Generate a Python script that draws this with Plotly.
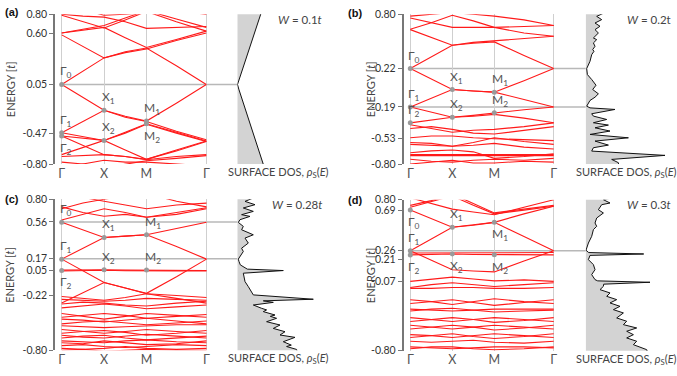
import plotly.graph_objects as go

# ---------------- data ----------------
K_NODES = [0, 0.5, 1, 1.5, 2, 2.7071, 3.4142]      # Γ, ., X, ., M, ., Γ
K_TICKS = [0, 1, 2, 3.4142]
K_LABELS = ["Γ", "X", "M", "Γ"]

BANDS_A = [
    [0.05, 0.19, 0.334, 0.40, 0.44, 0.25, 0.05],
    [0.58, 0.46, 0.334, 0.39, 0.43, 0.52, 0.60],
    [0.60, 0.63, 0.66, 0.55, 0.445, 0.53, 0.62],
    [0.79, 0.72, 0.654, 0.74, 0.83, 0.72, 0.62],
    [0.60, 0.64, 0.68, 0.76, 0.84, 0.75, 0.66],
    [0.92, 0.85, 0.79, 0.80, 0.82, 0.84, 0.80],
    [0.80, 0.78, 0.77, 0.72, 0.65, 0.66, 0.67],
    [0.05, -0.09, -0.226, -0.29, -0.341, -0.15, 0.05],
    [-0.466, -0.35, -0.226, -0.30, -0.345, -0.45, -0.54],
    [-0.466, -0.51, -0.548, -0.46, -0.37, -0.46, -0.555],
    [-0.50, -0.52, -0.548, -0.47, -0.375, -0.47, -0.56],
    [-0.50, -0.60, -0.70, -0.72, -0.75, -0.65, -0.555],
    [-0.70, -0.62, -0.548, -0.65, -0.75, -0.66, -0.56],
    [-0.72, -0.71, -0.70, -0.72, -0.755, -0.72, -0.70],
    [-0.78, -0.80, -0.84, -0.80, -0.765, -0.74, -0.71],
    [-0.86, -0.80, -0.76, -0.78, -0.78, -0.80, -0.82],
]

BANDS_B = [
    [0.22, 0.345, 0.469, 0.49, 0.505, 0.36, 0.22],
    [0.636, 0.55, 0.469, 0.50, 0.515, 0.54, 0.565],
    [0.64, 0.71, 0.79, 0.73, 0.66, 0.60, 0.565],
    [0.76, 0.71, 0.66, 0.66, 0.66, 0.67, 0.68],
    [0.78, 0.80, 0.82, 0.80, 0.78, 0.74, 0.68],
    [0.22, 0.11, -0.004, -0.02, -0.032, 0.09, 0.22],
    [-0.19, -0.10, -0.004, -0.02, -0.032, -0.11, -0.19],
    [-0.19, -0.245, -0.30, -0.28, -0.253, -0.22, -0.19],
    [-0.36, -0.33, -0.30, -0.29, -0.27, -0.31, -0.36],
    [-0.38, -0.42, -0.46, -0.44, -0.43, -0.40, -0.36],
    [-0.42, -0.40, -0.43, -0.47, -0.48, -0.44, -0.40],
    [-0.52, -0.50, -0.50, -0.52, -0.53, -0.54, -0.55],
    [-0.57, -0.58, -0.61, -0.57, -0.52, -0.56, -0.59],
    [-0.59, -0.60, -0.61, -0.60, -0.58, -0.62, -0.64],
    [-0.70, -0.70, -0.70, -0.70, -0.70, -0.70, -0.70],
    [-0.71, -0.71, -0.715, -0.715, -0.71, -0.71, -0.71],
    [-0.68, -0.66, -0.65, -0.67, -0.74, -0.72, -0.69],
    [-0.75, -0.77, -0.78, -0.76, -0.75, -0.76, -0.74],
    [-0.80, -0.78, -0.76, -0.79, -0.79, -0.77, -0.78],
]

BANDS_C = [
    [0.556, 0.476, 0.396, 0.41, 0.424, 0.49, 0.556],
    [0.166, 0.28, 0.396, 0.41, 0.424, 0.30, 0.166],
    [0.58, 0.64, 0.70, 0.66, 0.61, 0.66, 0.71],
    [0.72, 0.66, 0.62, 0.64, 0.61, 0.64, 0.70],
    [0.70, 0.76, 0.80, 0.84, 0.86, 0.78, 0.72],
    [0.90, 0.82, 0.78, 0.74, 0.70, 0.74, 0.76],
    [0.166, 0.04, -0.082, -0.14, -0.196, -0.02, 0.166],
    [0.05, 0.055, 0.054, 0.05, 0.05, 0.05, 0.045],
    [0.04, 0.045, 0.048, 0.043, 0.04, 0.042, 0.04],
    [-0.30, -0.19, -0.082, -0.14, -0.20, -0.25, -0.30],
    [-0.23, -0.25, -0.27, -0.24, -0.20, -0.22, -0.24],
    [-0.26, -0.27, -0.28, -0.27, -0.25, -0.26, -0.27],
    [-0.31, -0.29, -0.30, -0.32, -0.33, -0.30, -0.28],
    [-0.35, -0.33, -0.31, -0.33, -0.36, -0.34, -0.32],
    [-0.41, -0.44, -0.47, -0.44, -0.41, -0.43, -0.45],
    [-0.45, -0.43, -0.41, -0.43, -0.46, -0.44, -0.42],
    [-0.47, -0.48, -0.50, -0.48, -0.46, -0.49, -0.52],
    [-0.52, -0.50, -0.49, -0.51, -0.53, -0.51, -0.49],
    [-0.54, -0.55, -0.56, -0.55, -0.54, -0.53, -0.53],
    [-0.58, -0.60, -0.62, -0.60, -0.58, -0.60, -0.62],
    [-0.62, -0.60, -0.59, -0.61, -0.64, -0.62, -0.59],
    [-0.64, -0.66, -0.67, -0.65, -0.63, -0.65, -0.67],
    [-0.67, -0.65, -0.64, -0.67, -0.69, -0.67, -0.65],
    [-0.70, -0.71, -0.72, -0.70, -0.69, -0.71, -0.72],
    [-0.72, -0.73, -0.70, -0.72, -0.74, -0.73, -0.70],
    [-0.75, -0.74, -0.76, -0.77, -0.76, -0.74, -0.75],
    [-0.78, -0.79, -0.78, -0.76, -0.78, -0.79, -0.78],
    [-0.80, -0.79, -0.81, -0.80, -0.79, -0.80, -0.80],
]

BANDS_D = [
    [0.69, 0.60, 0.508, 0.53, 0.56, 0.65, 0.73],
    [0.26, 0.385, 0.508, 0.535, 0.56, 0.41, 0.26],
    [0.72, 0.78, 0.84, 0.74, 0.65, 0.69, 0.73],
    [0.74, 0.79, 0.86, 0.76, 0.66, 0.70, 0.74],
    [0.82, 0.76, 0.70, 0.67, 0.64, 0.72, 0.80],
    [0.26, 0.16, 0.058, 0.045, 0.035, 0.15, 0.26],
    [0.215, 0.22, 0.225, 0.22, 0.217, 0.215, 0.215],
    [0.235, 0.235, 0.24, 0.238, 0.235, 0.235, 0.24],
    [-0.065, -0.04, -0.02, -0.04, -0.06, -0.05, -0.065],
    [-0.13, -0.10, -0.08, -0.10, -0.12, -0.10, -0.08],
    [-0.14, -0.14, -0.13, -0.13, -0.14, -0.14, -0.13],
    [-0.26, -0.28, -0.31, -0.28, -0.25, -0.28, -0.30],
    [-0.30, -0.28, -0.26, -0.29, -0.32, -0.29, -0.26],
    [-0.36, -0.37, -0.38, -0.37, -0.36, -0.36, -0.36],
    [-0.38, -0.36, -0.35, -0.37, -0.39, -0.38, -0.37],
    [-0.45, -0.47, -0.49, -0.47, -0.45, -0.47, -0.49],
    [-0.49, -0.47, -0.45, -0.47, -0.50, -0.48, -0.45],
    [-0.53, -0.55, -0.57, -0.55, -0.53, -0.55, -0.57],
    [-0.57, -0.55, -0.53, -0.55, -0.58, -0.56, -0.53],
    [-0.63, -0.64, -0.66, -0.64, -0.62, -0.64, -0.66],
    [-0.66, -0.64, -0.62, -0.65, -0.67, -0.65, -0.62],
    [-0.70, -0.71, -0.70, -0.69, -0.71, -0.72, -0.70],
    [-0.76, -0.77, -0.78, -0.77, -0.76, -0.76, -0.77],
    [-0.78, -0.76, -0.76, -0.78, -0.79, -0.78, -0.76],
]

# surface DOS: energies and values
DOS_E_A = [0.82, 0.7, 0.6, 0.5, 0.45, 0.4, 0.3, 0.2, 0.1, 0.05, 0.0, -0.1, -0.2, -0.3, -0.4, -0.5, -0.6, -0.7, -0.82]
DOS_V_A = [24, 20.3, 17.3, 14.2, 12.3, 11, 7.8, 4.8, 1.7, 0.2, 1.5, 4.5, 7.3, 10.3, 13.2, 16.3, 19.5, 22.5, 26.5]

DOS_E_B = [0.82, 0.814, 0.778, 0.743, 0.707, 0.672, 0.636, 0.600, 0.547, 0.529, 0.494, 0.458, 0.423, 0.405,
           0.369, 0.298, 0.22, 0.156, 0.103, 0.042, -0.004, -0.05, -0.086, -0.121, -0.182, -0.2, -0.217,
           -0.263, -0.288, -0.324, -0.359, -0.384, -0.413, -0.448, -0.484, -0.52, -0.555, -0.598, -0.626,
           -0.662, -0.708, -0.751, -0.786, -0.82]
DOS_V_B = [18, 18.3, 11, 16, 9.3, 14.3, 9.3, 12.7, 7.7, 11, 7.7, 9.3, 7, 8.3,
           6, 4.3, 1, 1.7, 6, 10.3, 7, 12.7, 9.3, 4.3, 1, 4.3, 29.3,
           6, 7.7, 21, 7.7, 22.7, 9.3, 24.3, 4.3, 42.7, 9.3, 22.7, 7.7,
           6, 79.3, 26, 32.7, 33]

DOS_E_C = [0.82, 0.814, 0.778, 0.743, 0.708, 0.672, 0.637, 0.619, 0.584, 0.555, 0.513, 0.477, 0.424, 0.389,
           0.336, 0.282, 0.247, 0.194, 0.166, 0.141, 0.105, 0.06, 0.045, 0.017, -0.072, -0.125, -0.16,
           -0.213, -0.259, -0.276, -0.292, -0.32, -0.355, -0.372, -0.39, -0.426, -0.44, -0.461, -0.497,
           -0.532, -0.568, -0.603, -0.638, -0.663, -0.709, -0.745, -0.76, -0.791, -0.82]
DOS_V_C = [16, 16, 7.7, 17.7, 6, 16, 4.3, 12.7, 2.7, 1, 6, 4.3, 16, 7.7,
           11, 4.3, 6, 2.7, 1, 1.7, 3, 10, 46, 6, 7.7, 11, 12.7,
           16, 76, 26, 36, 16, 24.3, 29.3, 26, 37.7, 33, 39.3, 29.3,
           42.7, 36, 47.7, 42.7, 57.7, 46, 54, 49.3, 59.3, 60]

DOS_E_D = [0.82, 0.818, 0.8, 0.765, 0.747, 0.694, 0.659, 0.606, 0.553, 0.518, 0.483, 0.412, 0.341, 0.264,
           0.24, 0.225, 0.21, 0.165, 0.112, 0.059, 0.006, -0.047, -0.06, -0.075, -0.095, -0.118, -0.153,
           -0.188, -0.224, -0.259, -0.294, -0.33, -0.365, -0.4, -0.453, -0.488, -0.524, -0.559, -0.594,
           -0.63, -0.665, -0.7, -0.736, -0.789, -0.82]
DOS_V_D = [26, 26, 17.7, 24.3, 16, 12.7, 17.7, 11, 9.3, 11, 7.7, 6, 2.7, 0.3,
           3, 58, 4.3, 2.7, 7.7, 9.3, 6, 9.3, 12, 64.3, 18, 17.7, 14.3,
           24.3, 21, 31, 24.3, 34.3, 27.7, 37.7, 31, 41, 37.7, 51, 41,
           47.7, 41, 51, 47.7, 61, 62]

# tick labels and where each sits (close pairs are spread apart as in the source)
TICKS_A = [0.80, 0.60, 0.05, -0.47, -0.80]
TICKPOS_A = [0.80, 0.60, 0.05, -0.47, -0.80]
TICKS_B = [0.80, 0.22, -0.19, -0.53, -0.80]
TICKPOS_B = [0.80, 0.22, -0.19, -0.53, -0.80]
TICKS_C = [0.80, 0.56, 0.17, 0.05, -0.22, -0.80]
TICKPOS_C = [0.80, 0.56, 0.17, 0.05, -0.22, -0.80]
TICKS_D = [0.80, 0.69, 0.26, 0.21, -0.07, -0.80]
TICKPOS_D = [0.80, 0.69, 0.26, 0.17, -0.07, -0.80]

GUIDE_A = [0.05]
GUIDE_B = [0.22, -0.19]
GUIDE_C = [0.56, 0.17]
GUIDE_D = [0.26]

# special points: (label, sub, k, E, above?)
SPEC_A = [("Γ", "0", 0, 0.05, True), ("Γ", "1", 0, -0.466, True), ("Γ", "2", 0, -0.50, False),
          ("X", "1", 1, -0.226, True), ("X", "2", 1, -0.548, True),
          ("M", "1", 2, -0.341, True), ("M", "2", 2, -0.37, False)]
SPEC_B = [("Γ", "0", 0, 0.22, True), ("Γ", "1", 0, -0.19, True), ("Γ", "2", 0, -0.36, True),
          ("X", "1", 1, -0.004, True), ("X", "2", 1, -0.299, True),
          ("M", "1", 2, -0.032, True), ("M", "2", 2, -0.253, True)]
SPEC_C = [("Γ", "0", 0, 0.556, True), ("Γ", "1", 0, 0.166, True), ("Γ", "2", 0, 0.046, False),
          ("X", "1", 1, 0.396, True), ("X", "2", 1, 0.054, True),
          ("M", "1", 2, 0.424, True), ("M", "2", 2, 0.05, True)]
SPEC_D = [("Γ", "0", 0, 0.69, False), ("Γ", "1", 0, 0.26, True), ("Γ", "2", 0, 0.215, False),
          ("X", "1", 1, 0.508, True), ("X", "2", 1, 0.225, False),
          ("M", "1", 2, 0.56, False), ("M", "2", 2, 0.217, False)]

W_LABELS = ["<i>W</i> = 0.1<i>t</i>", "<i>W</i> = 0.2t", "<i>W</i> = 0.28<i>t</i>", "<i>W</i> = 0.3<i>t</i>"]
PANEL_LETTERS = ["(a)", "(b)", "(c)", "(d)"]

# ---------------- layout geometry (pixels) ----------------
FW, FH = 677, 376
FONT = "Lato, 'Open Sans', sans-serif"
GRAY_TXT = "#444444"

panels = [
    dict(bands=BANDS_A, dosE=DOS_E_A, dosV=DOS_V_A, ticks=TICKS_A, tpos=TICKPOS_A, guide=GUIDE_A,
         spec=SPEC_A, axl=55.0, g0=61.7, g1=206.3, top=14.3, bot=164.0, dosl=237.3, titlex=10,
         lab=(3, 12)),
    dict(bands=BANDS_B, dosE=DOS_E_B, dosV=DOS_V_B, ticks=TICKS_B, tpos=TICKPOS_B, guide=GUIDE_B,
         spec=SPEC_B, axl=403.5, g0=410.3, g1=553.7, top=14.3, bot=164.0, dosl=585.7, titlex=370,
         lab=(346, 13)),
    dict(bands=BANDS_C, dosE=DOS_E_C, dosV=DOS_V_C, ticks=TICKS_C, tpos=TICKPOS_C, guide=GUIDE_C,
         spec=SPEC_C, axl=55.0, g0=61.7, g1=206.5, top=199.3, bot=350.3, dosl=237.3, titlex=10,
         lab=(3, 199)),
    dict(bands=BANDS_D, dosE=DOS_E_D, dosV=DOS_V_D, ticks=TICKS_D, tpos=TICKPOS_D, guide=GUIDE_D,
         spec=SPEC_D, axl=403.5, g0=410.3, g1=553.7, top=199.7, bot=350.7, dosl=585.7, titlex=370,
         lab=(346, 200)),
]

DOS_WIDTH_PX = 90.0
KMAX = K_TICKS[-1]

fig = go.Figure()
layout = dict(width=FW, height=FH, margin=dict(l=0, r=0, t=0, b=0, autoexpand=False),
              paper_bgcolor="white", plot_bgcolor="rgba(0,0,0,0)", showlegend=False,
              font=dict(family=FONT, color=GRAY_TXT, size=10))
shapes, annotations = [], []


def px_x(p):
    return p / FW


def px_y(p):
    return 1 - p / FH


for i, P in enumerate(panels):
    bi = i + 1          # band axes index
    di = i + 5          # dos axes index
    bx, by = f"x{bi}", f"y{bi}"
    dx, dy = f"x{di}", f"y{di}"
    bxk = "xaxis" if bi == 1 else f"xaxis{bi}"
    byk = "yaxis" if bi == 1 else f"yaxis{bi}"
    u = (P["g1"] - P["g0"]) / KMAX
    xmin = -(P["g0"] - P["axl"]) / u
    xmax = 3.45
    right_px = P["g0"] + xmax * u
    ydom = [px_y(P["bot"]), px_y(P["top"])]

    layout[bxk] = dict(domain=[px_x(P["axl"]), px_x(right_px)], range=[xmin, xmax], anchor=by,
                       tickvals=K_TICKS, ticktext=K_LABELS, showgrid=True, gridcolor="#cfcfcf",
                       gridwidth=1, zeroline=False, showline=False, ticks="",
                       tickfont=dict(size=12.5, color="#555555"), fixedrange=True,
                       automargin=False)
    layout[byk] = dict(domain=ydom, range=[-0.8, 0.8], anchor=bx, tickvals=P["tpos"],
                       ticktext=[f"{t:.2f}" for t in P["ticks"]], showgrid=False, zeroline=False,
                       showline=True, linecolor="#777777", linewidth=1.5, ticks="outside",
                       ticklen=4, tickcolor="#777777", tickwidth=1,
                       tickfont=dict(size=10.5, color="#333333"), fixedrange=True,
                       automargin=False)
    layout[f"xaxis{di}"] = dict(domain=[px_x(P["dosl"]), px_x(P["dosl"] + DOS_WIDTH_PX)],
                                range=[0, DOS_WIDTH_PX], anchor=dy, visible=False, fixedrange=True)
    layout[f"yaxis{di}"] = dict(domain=ydom, range=[-0.8, 0.8], anchor=dx, visible=False,
                                fixedrange=True)

    # guide lines from Γ to DOS panel
    for e in P["guide"]:
        shapes.append(dict(type="line", xref="paper", yref=by, x0=px_x(P["g0"]),
                           x1=px_x(P["dosl"]), y0=e, y1=e,
                           line=dict(color="#b8b8b8", width=1.5), layer="below"))

    # bands
    for band in P["bands"]:
        fig.add_trace(go.Scatter(x=K_NODES, y=band, mode="lines", xaxis=bx, yaxis=by,
                                 line=dict(color="#ff1a1a", width=1.1), hoverinfo="skip"))

    # special points
    fig.add_trace(go.Scatter(x=[s[2] for s in P["spec"]], y=[s[3] for s in P["spec"]],
                             mode="markers", xaxis=bx, yaxis=by, cliponaxis=False,
                             marker=dict(color="#9a9a9a", size=5), hoverinfo="skip"))
    for (lab, sub, k, e, above) in P["spec"]:
        annotations.append(dict(x=k, y=e, xref=bx, yref=by, showarrow=False,
                                text=f"{lab}<sub>{sub}</sub>", xanchor="left",
                                yanchor="bottom" if above else "top",
                                xshift=-4, yshift=2 if above else -2,
                                font=dict(size=12, color="#555555")))

    # DOS
    fig.add_trace(go.Scatter(x=P["dosV"], y=P["dosE"], mode="lines", xaxis=dx, yaxis=dy,
                             fill="tozerox", fillcolor="#d3d3d3",
                             line=dict(color="#111111", width=1), hoverinfo="skip"))

    # texts
    annotations.append(dict(x=px_x(P["titlex"]), y=(ydom[0] + ydom[1]) / 2, xref="paper",
                            yref="paper", text="ENERGY [<i>t</i>]", textangle=-90,
                            xanchor="center", yanchor="middle",
                            showarrow=False, font=dict(size=11, color=GRAY_TXT)))
    annotations.append(dict(x=px_x(P["dosl"] + 87), y=px_y(P["top"] + 5), xref="paper",
                            yref="paper", text=W_LABELS[i], xanchor="right", yanchor="middle",
                            showarrow=False, font=dict(size=11.5, color=GRAY_TXT)))
    annotations.append(dict(x=px_x(P["dosl"] + 41), y=px_y(P["bot"] + 8.5), xref="paper",
                            yref="paper", text="SURFACE DOS, <i>ρ</i><sub>S</sub>(<i>E</i>)",
                            xanchor="center", yanchor="middle", showarrow=False,
                            font=dict(size=11, color=GRAY_TXT)))
    annotations.append(dict(x=px_x(P["lab"][0]), y=px_y(P["lab"][1]), xref="paper",
                            yref="paper", text=f"<b>{PANEL_LETTERS[i]}</b>", xanchor="left",
                            yanchor="middle", showarrow=False,
                            font=dict(size=11, color="#111111",
                                      family="'Liberation Sans', Arial, sans-serif")))

layout["shapes"] = shapes
layout["annotations"] = annotations
fig.update_layout(**layout)
fig.write_html("out.html", config={"displayModeBar": False},
               post_script="document.body.style.margin='0px';")
